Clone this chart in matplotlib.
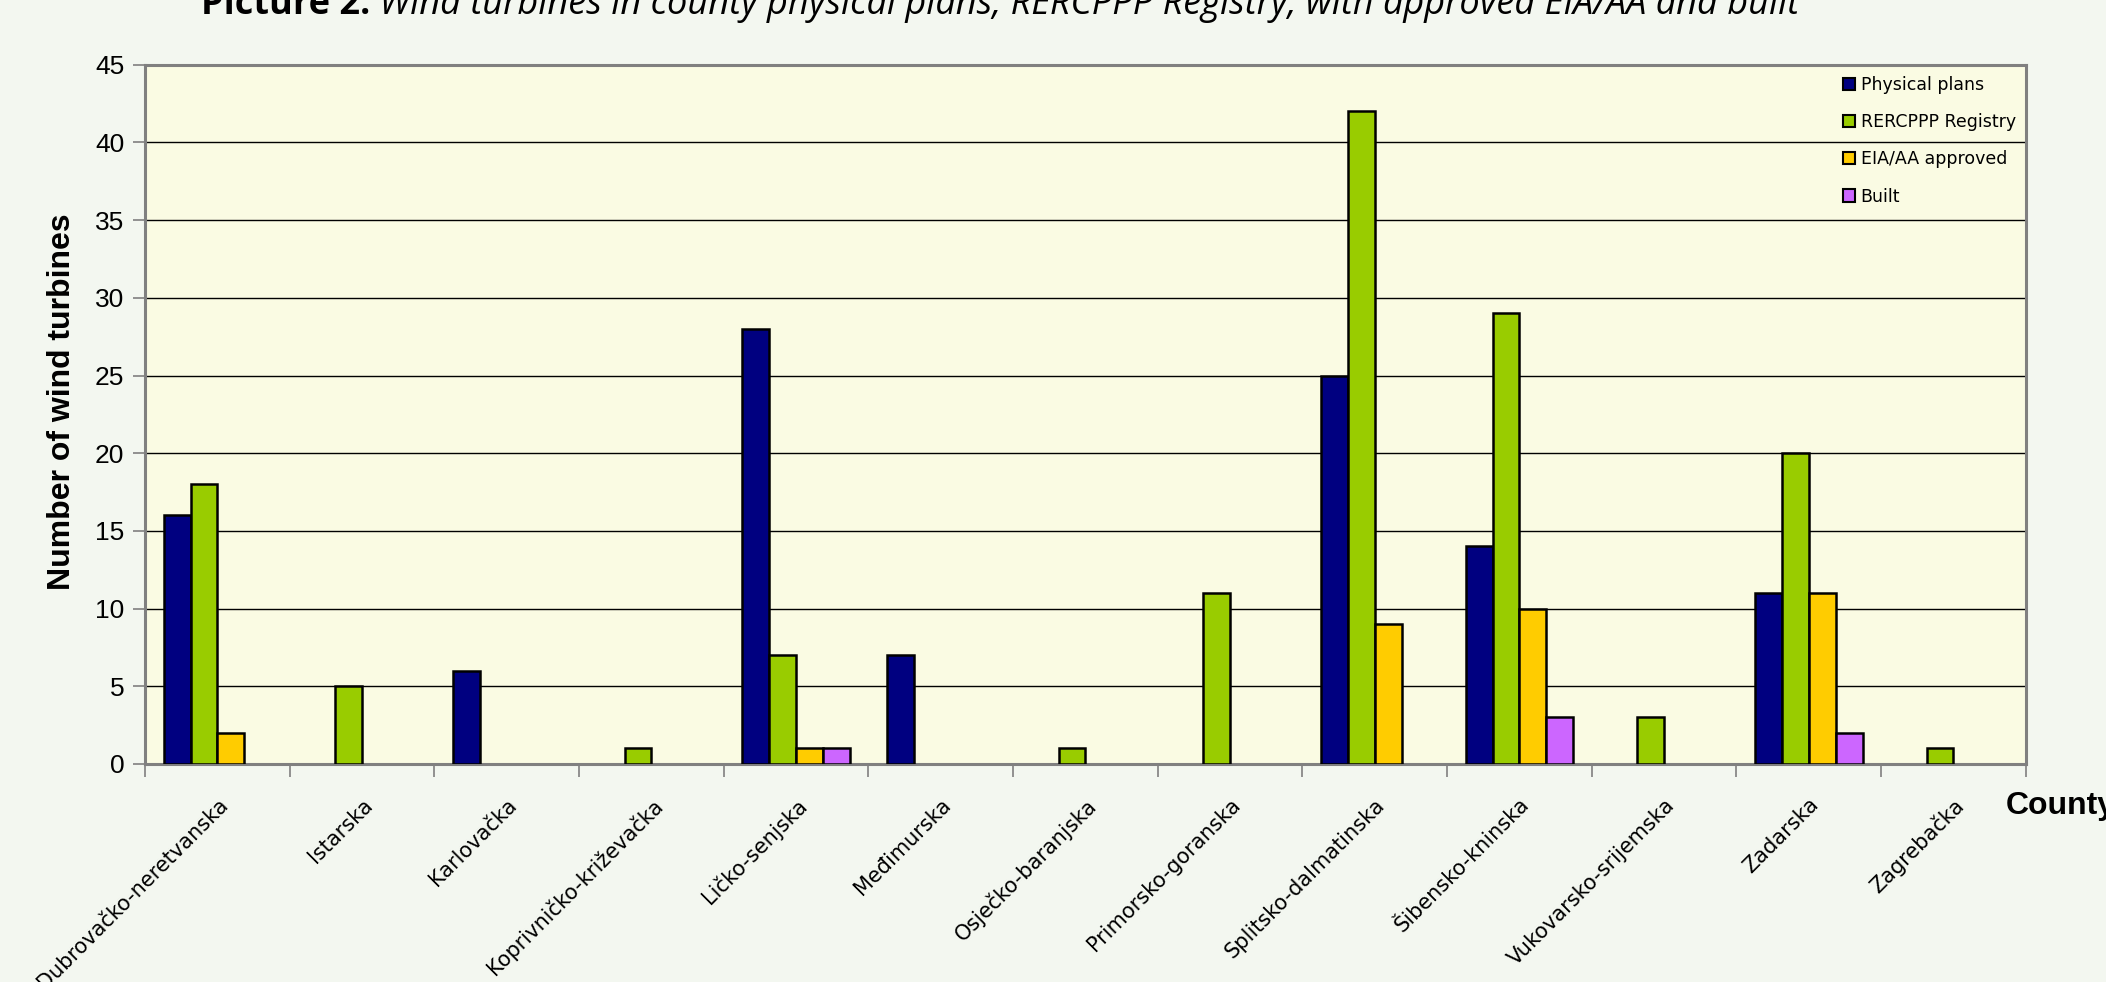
import numpy as np
import matplotlib
matplotlib.use("Agg")
import matplotlib.pyplot as plt
from matplotlib.patches import Patch

# data
counties = ["Dubrovačko-neretvanska", "Istarska", "Karlovačka",
            "Koprivničko-križevačka", "Ličko-senjska", "Međimurska",
            "Osječko-baranjska", "Primorsko-goranska", "Splitsko-dalmatinska",
            "Šibensko-kninska", "Vukovarsko-srijemska", "Zadarska", "Zagrebačka"]
physical_plans = [16, 0, 6, 0, 28, 7, 0, 0, 25, 14, 0, 11, 0]
rercppp_registry = [18, 5, 0, 1, 7, 0, 1, 11, 42, 29, 3, 20, 1]
eia_approved = [2, 0, 0, 0, 1, 0, 0, 0, 9, 10, 0, 11, 0]
built = [0, 0, 0, 0, 1, 0, 0, 0, 0, 3, 0, 2, 0]

series_names = ["Physical plans", "RERCPPP Registry", "EIA/AA approved", "Built"]
series = [physical_plans, rercppp_registry, eia_approved, built]
colors = ["#000080", "#99CC00", "#FFCC00", "#CC66FF"]

BG = "#F3F7F0"
PLOT_BG = "#FAFBE3"

fig = plt.figure(figsize=(21.06, 9.82), dpi=100, facecolor=BG)
ax = fig.add_axes([0.0689, 0.222, 0.893, 0.712], facecolor=PLOT_BG)

x = np.arange(len(counties))
w = 0.186
for i, (vals, c) in enumerate(zip(series, colors)):
    vals = np.array(vals, dtype=float)
    mask = vals > 0
    ax.bar(x[mask] + (i - 1.5) * w, vals[mask], width=w, color=c,
           edgecolor="black", linewidth=1.8, zorder=3)

ax.set_xlim(-0.5, len(counties) - 0.5)
ax.set_ylim(0, 45)
ax.set_yticks(np.arange(0, 46, 5))
ax.yaxis.grid(True, color="black", linewidth=1.0, zorder=1)
ax.set_axisbelow(True)

# category boundaries as tick marks, labels in between
ax.set_xticks(np.arange(-0.5, len(counties) + 0.5, 1))
ax.set_xticklabels([])
ax.tick_params(axis="x", length=9, width=1.2, color="#808080", direction="out")
ax.set_xticks(x, minor=True)
ax.set_xticklabels(counties, minor=True, rotation=45, ha="right",
                   rotation_mode="anchor", fontsize=15, family="DejaVu Sans")
ax.tick_params(axis="x", which="minor", length=0, pad=22)
ax.tick_params(axis="y", length=9, width=1.2, color="#808080", labelsize=19,
               pad=6)
for lab in ax.get_yticklabels():
    lab.set_family("Liberation Sans")

for s in ax.spines.values():
    s.set_color("#808080")
    s.set_linewidth(2.2)

ax.set_ylabel("Number of wind turbines", fontsize=23, fontweight="bold",
              family="Liberation Sans")
ax.yaxis.set_label_coords(-0.036, 0.518)
fig.text(2006 / 2106, 1 - 806 / 982, "County", fontsize=23, fontweight="bold",
         family="Liberation Sans", va="center", ha="left")

handles = [Patch(facecolor=c, edgecolor="black", linewidth=1.5) for c in colors]
ax.legend(handles, series_names, loc="upper right", frameon=False,
          fontsize=12.5, handlelength=0.7, handleheight=0.7, handletextpad=0.3,
          labelspacing=1.1, bbox_to_anchor=(1.003, 1.006))

# title, clipped at the top like the original
t1 = fig.text(201 / 2106, 1 - 14 / 982, "Picture 2.", fontsize=26,
              fontweight="bold", family="Open Sans", va="baseline", ha="left")
ax.annotate(" Wind turbines in county physical plans, RERCPPP Registry, "
            "with approved EIA/AA and built", xy=(1, 0), xycoords=t1,
            va="bottom", ha="left", fontsize=26, style="italic",
            family="Open Sans", annotation_clip=False)

fig.savefig("out.png", dpi=100, facecolor=BG)
